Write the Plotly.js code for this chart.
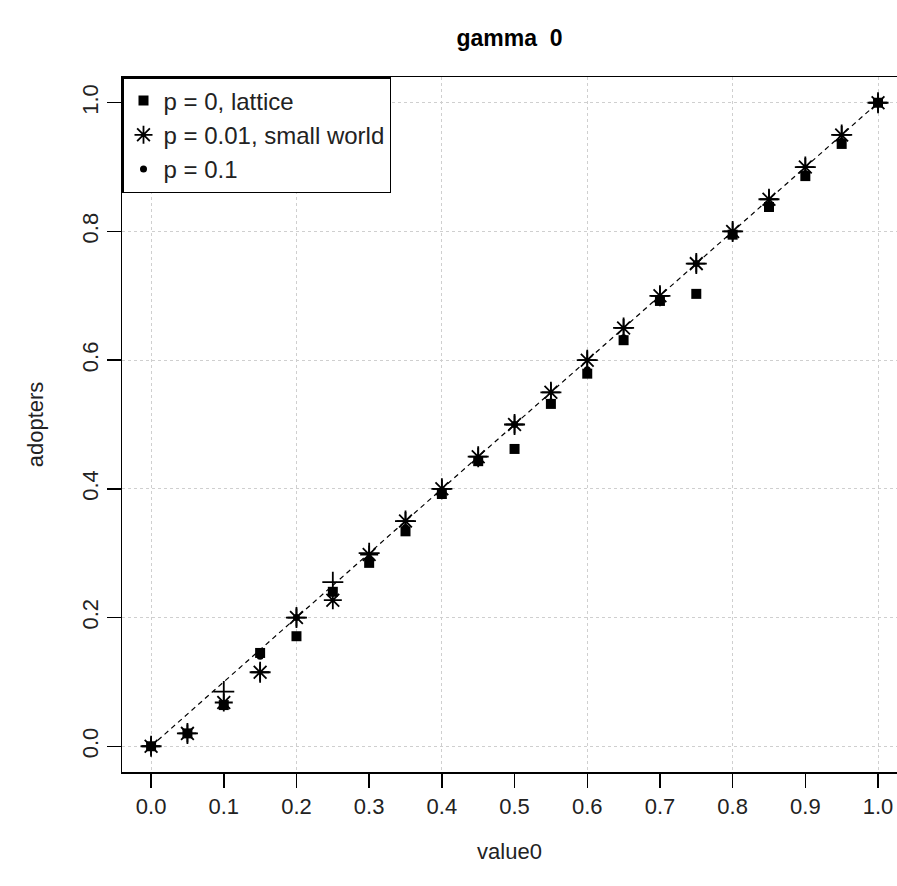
<!DOCTYPE html>
<html>
<head>
<meta charset="utf-8">
<script src="https://cdn.plot.ly/plotly-3.0.1.min.js"></script>
<style>
  html, body { margin: 0; padding: 0; background: #ffffff; }
  #chart { width: 897px; height: 886px; }
</style>
</head>
<body>
<div id="chart"></div>
<script>
// Share of adopters against the initial value, for three rewiring probabilities
const value0 = [0, 0.05, 0.1, 0.15, 0.2, 0.25, 0.3, 0.35, 0.4, 0.45, 0.5,
                0.55, 0.6, 0.65, 0.7, 0.75, 0.8, 0.85, 0.9, 0.95, 1.0];

const latticeAdopters = [0, 0.02, 0.064, 0.145, 0.171, 0.24, 0.285, 0.334, 0.392, 0.443, 0.462,
                         0.532, 0.579, 0.631, 0.692, 0.703, 0.795, 0.838, 0.886, 0.936, 1.0];

const smallWorldAdopters = [0, 0.02, 0.068, 0.115, 0.2, 0.227, 0.298, 0.35, 0.4, 0.45, 0.5,
                            0.55, 0.6, 0.65, 0.7, 0.75, 0.8, 0.85, 0.9, 0.95, 1.0];

const randomAdopters = [0, 0.02, 0.066, 0.14, 0.2, 0.24, 0.29, 0.34, 0.395, 0.445, 0.5,
                        0.535, 0.585, 0.635, 0.695, 0.75, 0.795, 0.84, 0.89, 0.94, 1.0];

const crossAdopters = [0, 0.02, 0.085, 0.115, 0.2, 0.255, 0.3, 0.35, 0.4, 0.45, 0.5,
                       0.55, 0.6, 0.65, 0.7, 0.75, 0.8, 0.85, 0.9, 0.95, 1.0];

// reference diagonal adopters = value0
const diagX = [0, 1];
const diagY = [0, 1];

const xTicks = [0, 0.1, 0.2, 0.3, 0.4, 0.5, 0.6, 0.7, 0.8, 0.9, 1.0];
const xTickText = ['0.0', '0.1', '0.2', '0.3', '0.4', '0.5', '0.6', '0.7', '0.8', '0.9', '1.0'];
const yTicks = [0, 0.2, 0.4, 0.6, 0.8, 1.0];
const yTickText = ['0.0', '0.2', '0.4', '0.6', '0.8', '1.0'];
const gridTicks = [0, 0.2, 0.4, 0.6, 0.8, 1.0];

const FONT = 'Liberation Sans, Arial, sans-serif';

const traces = [
  {
    x: diagX, y: diagY, mode: 'lines', showlegend: false, hoverinfo: 'skip',
    line: { color: '#000', width: 1.2, dash: '5px,4px' }
  },
  {
    x: value0, y: latticeAdopters, mode: 'markers', name: 'p = 0, lattice',
    legendgroup: 'a',
    marker: { symbol: 'square', size: 10, color: '#000' }
  },
  {
    x: value0, y: smallWorldAdopters, mode: 'markers', name: 'p = 0.01, small world',
    legendgroup: 'b',
    marker: { symbol: 'asterisk-open', size: 15, color: '#000', line: { color: '#000', width: 1.8 } }
  },
  {
    x: value0, y: randomAdopters, mode: 'markers', name: 'p = 0.1',
    legendgroup: 'c',
    marker: { symbol: 'circle', size: 7, color: '#000' }
  },
  {
    x: value0, y: crossAdopters, mode: 'markers', showlegend: false,
    marker: { symbol: 'cross-thin-open', size: 15, color: '#000', line: { color: '#000', width: 1.8 } }
  },
  {
    // carrier for the vertical grid on the overlay axis
    x: diagX, y: diagY, xaxis: 'x2', mode: 'markers', showlegend: false, hoverinfo: 'skip',
    marker: { size: 1, opacity: 0 }
  }
];

const layout = {
  width: 897,
  height: 886,
  paper_bgcolor: '#ffffff',
  plot_bgcolor: 'rgba(0,0,0,0)',
  margin: { l: 122, r: 0, t: 77, b: 114 },
  font: { family: FONT, size: 20, color: '#222' },
  title: {
    text: '<b>gamma  0</b>',
    font: { family: FONT, size: 23, color: '#000' },
    x: 0.5, xref: 'paper', xanchor: 'center',
    y: 1 - 38 / 886, yref: 'container', yanchor: 'middle'
  },
  showlegend: true,
  legend: {
    x: 0, y: 1, xanchor: 'left', yanchor: 'top',
    bgcolor: '#ffffff', bordercolor: '#000', borderwidth: 1.5,
    font: { family: FONT, size: 24, color: '#222' },
    traceorder: 'grouped', tracegroupgap: 0,
    itemsizing: 'trace'
  },
  xaxis: {
    range: [-0.04, 1.0261],
    tickmode: 'array', tickvals: xTicks, ticktext: xTickText,
    ticks: 'outside', ticklen: 14, tickwidth: 1.5, tickcolor: '#000',
    showline: true, linecolor: '#000', linewidth: 1.5, mirror: true,
    showgrid: false, zeroline: false,
    tickfont: { family: FONT, size: 22, color: '#222' },
    title: { text: 'value0', font: { family: FONT, size: 22, color: '#222' }, standoff: 25 }
  },
  xaxis2: {
    overlaying: 'x', matches: 'x', side: 'bottom',
    tickmode: 'array', tickvals: gridTicks, showticklabels: false, ticks: '',
    showgrid: true, gridcolor: '#cfcfcf', gridwidth: 1, griddash: 'dot',
    showline: false, zeroline: false
  },
  yaxis: {
    range: [-0.04, 1.04],
    tickmode: 'array', tickvals: yTicks, ticktext: yTickText,
    ticks: 'outside', ticklen: 14, tickwidth: 1.5, tickcolor: '#000',
    tickangle: -90,
    showline: true, linecolor: '#000', linewidth: 1.5, mirror: false,
    showgrid: true, gridcolor: '#cfcfcf', gridwidth: 1, griddash: 'dot',
    zeroline: false,
    tickfont: { family: FONT, size: 22, color: '#222' },
    title: { text: 'adopters', font: { family: FONT, size: 22, color: '#222' }, standoff: 28 }
  }
};

Plotly.newPlot('chart', traces, layout, { staticPlot: true, displayModeBar: false });
</script>
</body>
</html>
